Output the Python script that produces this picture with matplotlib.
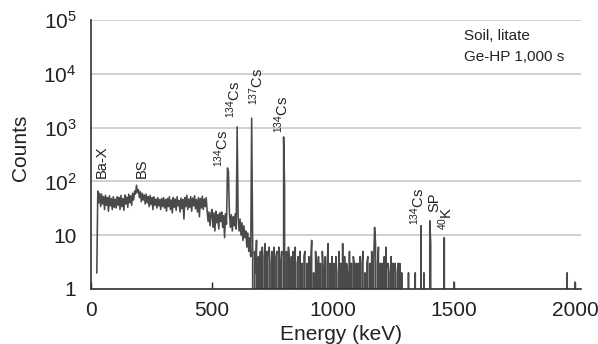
import numpy as np
import matplotlib
matplotlib.use("Agg")
import matplotlib.pyplot as plt

plt.rcParams["font.family"] = ["Liberation Sans", "DejaVu Sans"]
plt.rcParams["mathtext.fontset"] = "custom"
plt.rcParams["mathtext.rm"] = "Liberation Sans"
plt.rcParams["mathtext.it"] = "Liberation Sans:italic"
plt.rcParams["mathtext.default"] = "regular"

# ---- spectrum data (4 keV channels starting at 24 keV) ----
channel_start = 24
channel_width = 4

# continuum, 24 .. 696 keV
counts_low = [
    2,
    66, 40, 60, 34, 58, 38, 52, 30, 55, 36, 50, 28, 54, 35, 48, 30, 52, 33, 47,
    32, 52, 36, 50, 30, 55, 34, 48, 29, 56, 38, 51, 33, 58, 40, 54, 36, 60, 45,
    66, 58, 85, 62, 70,
    50, 64, 42, 60, 45, 56, 38, 58, 40, 52, 34, 55, 37, 50, 30, 52, 36, 47, 32,
    50, 35, 46, 30, 48, 34,
    50, 32, 46, 28, 48, 34, 52, 30, 45, 26, 50, 33, 47, 29, 52, 35, 44, 27, 49,
    31, 46, 20, 50, 34, 55, 30, 47, 33, 52, 28, 49, 35, 54, 31, 46, 27, 50, 22,
    48, 32, 53, 30, 47, 34, 50,
    28, 18, 27, 15, 25, 30, 14, 26, 12, 28, 17, 24, 13, 26, 18, 27, 14, 23, 9,
    25, 16,
    20, 20,
    26, 14, 24, 12, 22, 15, 25, 13,
    18,
    22, 12, 20, 10, 17, 8, 15, 9, 12, 6, 11, 5, 9, 4,
    6,
    7, 0, 5, 2, 8, 0, 4, 0,
]

# low-count region, 700 .. 1288 keV
counts_mid = [
    5, 0, 6, 0, 4, 7, 0, 5, 0, 6, 3, 0, 5, 0, 6, 0, 4, 5, 0, 6, 0, 3, 5, 0, 4,
    4, 0, 5, 0, 6, 3, 0, 4, 0, 5, 0, 6, 0, 3, 4, 0, 5, 0, 3, 0, 4, 5, 0, 3, 0,
    4, 0, 3, 8, 0, 2, 0, 5, 3, 0, 4, 0, 3, 0, 5, 2, 0, 4, 0, 3, 7, 0, 3, 0, 4,
    0, 3, 0, 4, 2, 0, 5, 0, 3, 0, 7, 0, 4, 0, 3, 2, 0, 5, 0, 3, 0, 4, 3, 0, 3,
    0, 3, 0, 4, 0, 3, 5, 0, 2, 0, 3, 4, 0, 3, 0, 5, 0, 3, 0, 7, 0, 3, 6, 0, 3,
    0, 3, 0, 4, 0, 6, 0, 3, 2, 0, 4, 0, 3, 0, 3, 2, 0, 3, 0, 3, 0, 2, 0,
]

# isolated small counts above 1288 keV
sparse_energy = [1312, 1340, 1376, 1500, 1968, 2000]
sparse_counts = [2, 2, 2, 1.35, 2, 1.35]

# full-energy peaks
peak_energy = [564, 568, 604, 664, 796, 800, 1172, 1364, 1400, 1404, 1460]
peak_counts = [178, 150, 1030, 1500, 670, 80, 14, 15, 18.5, 7, 9]

# peak labels: text, energy (keV), counts at the label's foot
label_text = ["Ba-X", "BS", "$^{134}$Cs", "$^{134}$Cs", "$^{137}$Cs",
              "$^{134}$Cs", "$^{134}$Cs", "SP", "$^{40}$K"]
label_energy = [45, 211, 541, 589, 684, 789, 1349, 1418, 1467]
label_counts = [116, 116, 184, 1510, 2640, 795, 15.5, 27, 12.5]

# ---- build the channel array ----
energy = np.arange(channel_start, 2028, channel_width)
counts = np.zeros(len(energy))
counts[:len(counts_low)] = counts_low
counts[len(counts_low):len(counts_low) + len(counts_mid)] = counts_mid
for e, c in zip(sparse_energy + peak_energy, sparse_counts + peak_counts):
    counts[(e - channel_start) // channel_width] = c

# ---- figure ----
fig = plt.figure(figsize=(5.98, 3.44), dpi=100)
ax = fig.add_axes([91 / 598, 1 - 289 / 344, 490 / 598, 269 / 344])

ax.plot(energy, counts, color="#4a4a4a", lw=1.15)

ax.set_yscale("log")
ax.set_ylim(1, 1e5)
ax.set_xlim(0, 2025)

ax.set_yticks([1, 10, 100, 1e3, 1e4, 1e5])
ax.set_yticklabels(["1", "10", "10$^2$", "10$^3$", "10$^4$", "10$^5$"])
ax.yaxis.set_minor_locator(matplotlib.ticker.NullLocator())
ax.set_xticks([0, 500, 1000, 1500, 2000])
ax.set_xticklabels(["0", "500", "1000", "1500", "2000"])

ax.tick_params(axis="y", length=0, pad=10.5, labelsize=15, colors="#222222")
ax.tick_params(axis="x", direction="in", length=5, width=1, pad=9,
               labelsize=15, colors="#222222")

ax.grid(axis="y", color="#c8c8c8", lw=1.2)
ax.set_axisbelow(True)
for side in ("top", "right"):
    ax.spines[side].set_visible(False)
for side in ("left", "bottom"):
    ax.spines[side].set_color("#333333")
    ax.spines[side].set_linewidth(1.2)

ax.set_xlabel("Energy (keV)", fontsize=15, color="#222222")
ax.set_ylabel("Counts", fontsize=15, color="#222222")
ax.xaxis.set_label_coords(0.51, -0.135)
ax.yaxis.set_label_coords(-0.124, 0.525)

for t, e, c in zip(label_text, label_energy, label_counts):
    ax.text(e, c, t, rotation=90, ha="center", va="bottom",
            fontsize=10.5, color="#222222")

fig.text(464 / 598, 1 - 29 / 344, "Soil, litate\nGe-HP 1,000 s",
         ha="left", va="top", fontsize=11, linespacing=1.6, color="#222222")

fig.savefig("out.png", dpi=100)
